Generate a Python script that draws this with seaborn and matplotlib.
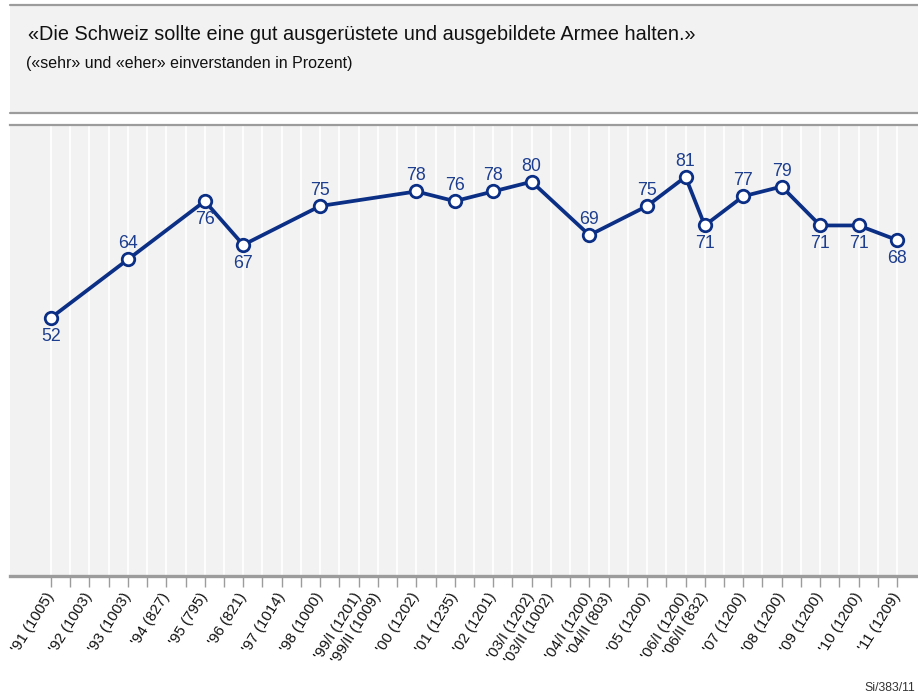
import matplotlib
matplotlib.use("Agg")
import matplotlib.pyplot as plt
import seaborn as sns
import pandas as pd
from matplotlib.patches import Rectangle
from matplotlib.lines import Line2D

# ---------------- data ----------------
title = "«Die Schweiz sollte eine gut ausgerüstete und ausgebildete Armee halten.»"
subtitle = "(«sehr» und «eher» einverstanden in Prozent)"
footer = "Si/383/11"

survey_labels = ["'91 (1005)", "'92 (1003)", "'93 (1003)", "'94 (827)", "'95 (795)",
                 "'96 (821)", "'97 (1014)", "'98 (1000)", "'99/I (1201)", "'99/II (1009)",
                 "'00 (1202)", "'01 (1235)", "'02 (1201)", "'03/I (1202)", "'03/II (1002)",
                 "'04/I (1200)", "'04/II (803)", "'05 (1200)", "'06/I (1200)", "'06/II (832)",
                 "'07 (1200)", "'08 (1200)", "'09 (1200)", "'10 (1200)", "'11 (1209)"]
# survey position on the half-year scale
survey_slot = [0, 2, 4, 6, 8, 10, 12, 14, 16, 17, 19, 21, 23, 25, 26, 28, 29, 31, 33, 34,
               36, 38, 40, 42, 44]

value_slot = [0, 4, 8, 10, 14, 19, 21, 23, 25, 28, 31, 33, 34, 36, 38, 40, 42, 44]
values = [52, 64, 76, 67, 75, 78, 76, 78, 80, 69, 75, 81, 71, 77, 79, 71, 71, 68]
label_side = ["below", "above", "below", "below", "above", "above", "above", "above", "above",
              "above", "above", "above", "below", "above", "above", "below", "below", "below"]

# ---------------- style ----------------
sns.set_theme(style="white")
plt.rcParams['font.family'] = ['Liberation Sans', 'DejaVu Sans']

NAVY = "#0c2f86"
LABEL = "#1d3d8e"
BG = "#f2f2f2"
GRAY = "#9c9c9c"

W, H = 918, 695
fig = plt.figure(figsize=(W / 100, H / 100), dpi=100)
fig.patch.set_facecolor("white")

def fy(py):
    return (H - py) / H

def fx(px):
    return px / W

# header box
fig.patches.append(Rectangle((fx(10), fy(112.7)), 1 - fx(10), fy(5) - fy(112.7),
                             transform=fig.transFigure, facecolor=BG, edgecolor="none", zorder=0))
for py in (5, 112.7):
    fig.lines.append(Line2D([fx(10), 1], [fy(py), fy(py)], transform=fig.transFigure,
                            color=GRAY, lw=1.6))
fig.text(fx(28), fy(40.5), title, fontsize=14.3, color="#111111", va="baseline", ha="left")
fig.text(fx(26), fy(68), subtitle, fontsize=11.5, color="#111111", va="baseline", ha="left")
fig.text(fx(915), fy(688), footer, fontsize=8.8, color="#333333", va="center", ha="right")

# plot area
ax = fig.add_axes([fx(10), fy(576), 1 - fx(10), fy(125) - fy(576)])
ax.set_facecolor(BG)

df = pd.DataFrame({"slot": value_slot, "value": values})
sns.lineplot(data=df, x="slot", y="value", ax=ax, color=NAVY, linewidth=2.7,
             marker="o", markersize=9, markerfacecolor="white",
             markeredgecolor=NAVY, markeredgewidth=2.0, zorder=5)

for s, v, side in zip(value_slot, values, label_side):
    off = -13.2 if side == "below" else 11.2
    ax.annotate(str(v), (s, v), xytext=(0, off), textcoords="offset points",
                ha="center", va="center", fontsize=12.8, color=LABEL, zorder=6)

ax.set_xlim(-2.13, 45.09)
ax.set_ylim(-1.13, 91.67)

all_slots = list(range(0, 45))
tick_text = []
for s in all_slots:
    tick_text.append(survey_labels[survey_slot.index(s)] if s in survey_slot else "")
ax.set_xticks(all_slots)
ax.set_xticklabels(tick_text, rotation=58, ha="right", va="center",
                   rotation_mode="anchor", fontsize=10.8, color="#111111")
ax.set_yticks([])
ax.grid(axis="x", color="white", linewidth=1.3)
ax.grid(axis="y", visible=False)
ax.set_axisbelow(True)
ax.tick_params(axis="x", direction="out", length=8, width=1, color=GRAY, pad=5, bottom=True)
ax.set_xlabel("")
ax.set_ylabel("")
for side in ("left", "right"):
    ax.spines[side].set_visible(False)
ax.spines["bottom"].set_color(GRAY)
ax.spines["bottom"].set_linewidth(2.4)
ax.spines["top"].set_color(GRAY)
ax.spines["top"].set_linewidth(1.6)

fig.savefig("out.png", dpi=100, facecolor="white")
